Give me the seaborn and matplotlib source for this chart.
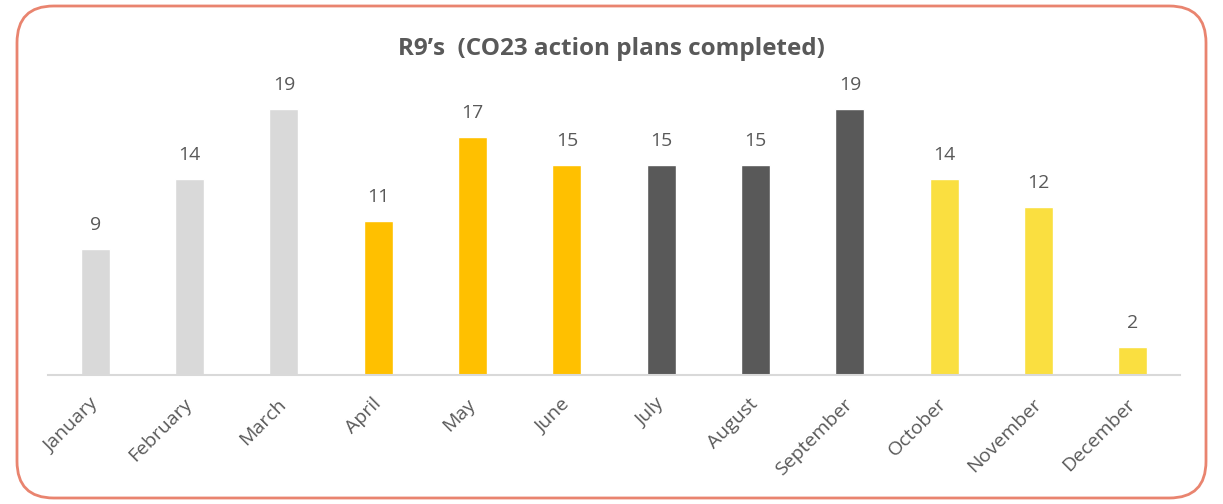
#!/usr/bin/env python3
"""Monthly count of completed CO23 action plans (R9)."""

import matplotlib

matplotlib.use("Agg")
import matplotlib.pyplot as plt
import pandas as pd
import seaborn as sns
from matplotlib.patches import FancyBboxPatch

MONTHS = ["January", "February", "March", "April", "May", "June", "July",
          "August", "September", "October", "November", "December"]
COMPLETED = [9, 14, 19, 11, 17, 15, 15, 15, 19, 14, 12, 2]
QUARTER = ["Q1", "Q1", "Q1", "Q2", "Q2", "Q2", "Q3", "Q3", "Q3", "Q4", "Q4", "Q4"]
QUARTER_COLORS = {"Q1": "#D9D9D9", "Q2": "#FFC000", "Q3": "#595959", "Q4": "#FADF40"}

TEXT = "#595959"


def main():
    sns.set_theme(style="white")
    plt.rcParams["font.family"] = ["Open Sans", "DejaVu Sans"]

    df = pd.DataFrame({"month": MONTHS, "completed": COMPLETED, "quarter": QUARTER})

    fig = plt.figure(figsize=(12.23, 5.04), dpi=100)
    ax = fig.add_axes([48 / 1223, 1 - 375 / 504, 1132 / 1223, 280 / 504])

    sns.barplot(data=df, x="month", y="completed", hue="quarter",
                palette=QUARTER_COLORS, dodge=False, width=0.31,
                saturation=1, legend=False, ax=ax)

    ax.set_ylim(0, 20)
    ax.set_xlim(-0.5, len(MONTHS) - 0.5)
    ax.set_xlabel("")
    ax.set_ylabel("")
    ax.set_yticks([])
    for side in ("top", "right", "left"):
        ax.spines[side].set_visible(False)
    ax.spines["bottom"].set_color("#D9D9D9")
    ax.spines["bottom"].set_linewidth(1.5)
    ax.tick_params(axis="x", length=0, pad=19)
    ax.set_xticks(range(len(MONTHS)))
    ax.set_xticklabels(MONTHS, rotation=45, ha="right", va="center",
                       rotation_mode="anchor", fontsize=14, color=TEXT)

    for i, v in enumerate(COMPLETED):
        ax.annotate(str(v), (i, v), xytext=(0, 11), textcoords="offset points",
                    ha="center", va="bottom", fontsize=14, color=TEXT)

    fig.text(0.5, 1 - 49 / 504, "R9\u2019s  (CO23 action plans completed)",
             ha="center", va="center", fontsize=17.5, fontweight="bold", color=TEXT)

    border = FancyBboxPatch((17 / 1223, 6 / 504), 1189 / 1223, 492 / 504,
                            boxstyle="round,pad=0,rounding_size=0.03",
                            transform=fig.transFigure, facecolor="none",
                            edgecolor="#E9846F", linewidth=2, mutation_aspect=1223 / 504)
    fig.patches.append(border)

    fig.savefig("out.png", dpi=100)
    plt.close(fig)


if __name__ == "__main__":
    main()
